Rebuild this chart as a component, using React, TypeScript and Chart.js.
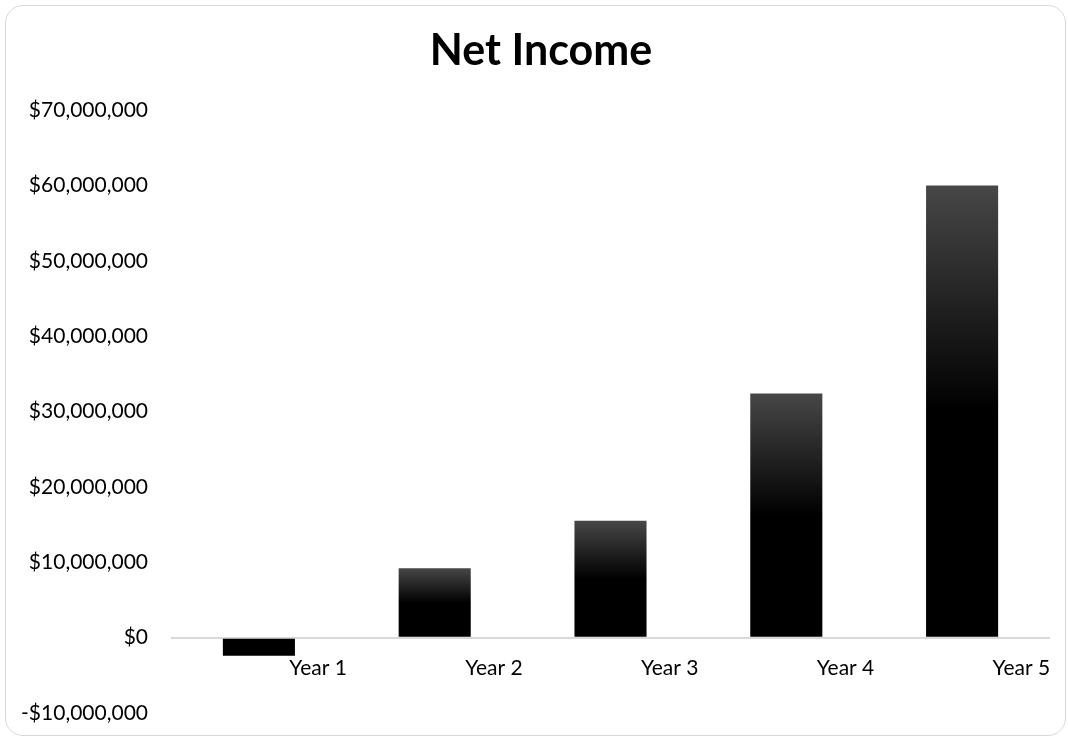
import React, { useEffect, useRef } from "react";
import { Chart, registerables } from "chart.js";

Chart.register(...registerables);

const categories = ["Year 1", "Year 2", "Year 3", "Year 4", "Year 5"];
const netIncome = [-2400000, 9200000, 15500000, 32400000, 60000000];
const yMin = -10000000;
const yMax = 70000000;
const yStep = 10000000;
const chartTitle = "Net Income";

const FONT = "Lato, 'Open Sans', sans-serif";

function formatMoney(v: number): string {
  const abs = Math.abs(v).toLocaleString("en-US");
  return v < 0 ? "-$" + abs : "$" + abs;
}

const titlePlugin = {
  id: "customTitle",
  afterDraw(chart: any) {
    const ctx = chart.ctx;
    ctx.save();
    ctx.font = `bold 43px ${FONT}`;
    ctx.fillStyle = "#000000";
    ctx.textAlign = "center";
    ctx.textBaseline = "alphabetic";
    ctx.fillText(chartTitle, 541, 65);
    ctx.restore();
  },
};

export default function App() {
  const canvasRef = useRef<HTMLCanvasElement | null>(null);

  useEffect(() => {
    const canvas = canvasRef.current;
    if (!canvas) return;
    const chart = new Chart(canvas, {
      type: "bar",
      data: {
        labels: categories,
        datasets: [
          {
            label: chartTitle,
            data: netIncome,
            backgroundColor: (ctx: any) => {
              const c = ctx.chart;
              if (!c.chartArea || ctx.type !== "data") return "#000000";
              const v = ctx.raw as number;
              if (v < 0) return "#000000";
              const ys = c.scales.y;
              const top = ys.getPixelForValue(v);
              const bottom = ys.getPixelForValue(0);
              if (!isFinite(top) || !isFinite(bottom) || top === bottom) return "#000000";
              const g = c.ctx.createLinearGradient(0, top, 0, bottom);
              g.addColorStop(0, "#474747");
              g.addColorStop(0.5, "#000000");
              g.addColorStop(1, "#000000");
              return g;
            },
            borderWidth: 0,
            categoryPercentage: 1,
            barPercentage: 0.41,
          },
        ],
      },
      plugins: [titlePlugin],
      options: {
        responsive: true,
        maintainAspectRatio: false,
        animation: false,
        layout: { padding: { left: 0, right: 18, top: 110, bottom: 25 } },
        plugins: {
          legend: { display: false },
          tooltip: { enabled: false },
          title: { display: false },
        },
        scales: {
          x: {
            type: "category",
            position: { y: 0 } as any,
            offset: true,
            grid: { display: false, drawTicks: false },
            border: { display: false },
            ticks: {
              color: "#000000",
              font: { family: FONT, size: 21 },
              padding: 18,
              align: "end",
              labelOffset: 88,
              maxRotation: 0,
              autoSkip: false,
            },
          },
          y: {
            min: yMin,
            max: yMax,
            border: { display: false },
            grid: {
              drawTicks: false,
              lineWidth: 2,
              color: (ctx: any) =>
                ctx.tick && ctx.tick.value === 0 ? "#d9d9d9" : "rgba(0,0,0,0)",
            },
            ticks: {
              stepSize: yStep,
              color: "#000000",
              font: { family: FONT, size: 21 },
              padding: 23,
              callback: (value: any) => formatMoney(Number(value)),
            },
            afterFit: (scale: any) => {
              scale.width = 171;
              scale.paddingTop = 12;
              scale.paddingBottom = 12;
            },
          },
        },
      },
    });
    return () => chart.destroy();
  }, []);

  return (
    <div style={{ position: "fixed", left: 0, top: 0, width: 1068, height: 738, background: "#ffffff" }}>
      <div
        style={{
          position: "absolute",
          left: 5,
          top: 5,
          width: 1061,
          height: 731,
          border: "1px solid #d9d9d9",
          borderRadius: 18,
          boxSizing: "border-box",
          pointerEvents: "none",
        }}
      />
      <div style={{ position: "absolute", left: 0, top: 0, width: 1068, height: 738 }}>
        <canvas ref={canvasRef} />
      </div>
    </div>
  );
}
